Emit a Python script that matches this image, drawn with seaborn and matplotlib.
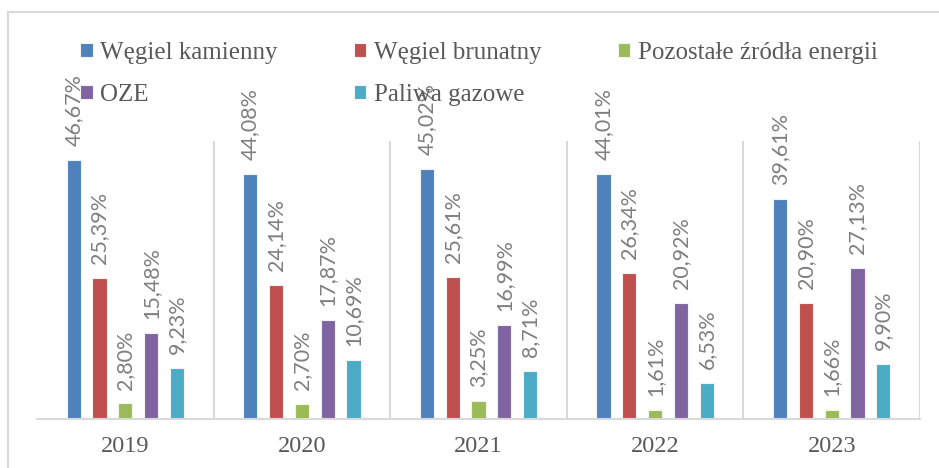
import matplotlib
matplotlib.use("Agg")
import matplotlib.pyplot as plt
from matplotlib.patches import Rectangle
import seaborn as sns
import pandas as pd

years = ["2019", "2020", "2021", "2022", "2023"]
sources = ["Węgiel kamienny", "Węgiel brunatny", "Pozostałe źródła energii", "OZE", "Paliwa gazowe"]
wegiel_kamienny = [46.67, 44.08, 45.02, 44.01, 39.61]
wegiel_brunatny = [25.39, 24.14, 25.61, 26.34, 20.90]
pozostale = [2.80, 2.70, 3.25, 1.61, 1.66]
oze = [15.48, 17.87, 16.99, 20.92, 27.13]
paliwa_gazowe = [9.23, 10.69, 8.71, 6.53, 9.90]
colors = ["#4F81BD", "#C0504D", "#9BBB59", "#8064A2", "#4BACC6"]

series = [wegiel_kamienny, wegiel_brunatny, pozostale, oze, paliwa_gazowe]
rows = []
for name, vals in zip(sources, series):
    for y, v in zip(years, vals):
        rows.append({"rok": y, "zrodlo": name, "udzial": v})
df = pd.DataFrame(rows)

sns.set_theme(style="white")
plt.rcParams['font.family'] = ['Liberation Serif', 'DejaVu Serif']

fig = plt.figure(figsize=(9.39, 4.68), dpi=100)
ax = fig.add_axes([37/939, 1 - 419/468, (920-37)/939, (419-141)/468])

sns.barplot(data=df, x="rok", y="udzial", hue="zrodlo", hue_order=sources,
            order=years, palette=colors, saturation=1, width=0.73, gap=0.45,
            edgecolor="#F2F2F2", linewidth=0.8, ax=ax)

ax.set_ylim(0, 50)
ax.set_xlim(-0.5, 4.5)
ax.set_xlabel("")
ax.set_ylabel("")
ax.set_yticks([])
for s in ["top", "left", "right"]:
    ax.spines[s].set_visible(False)
ax.spines["bottom"].set_color("#D9D9D9")
ax.spines["bottom"].set_linewidth(1.5)
for xb in [0.5, 1.5, 2.5, 3.5, 4.5]:
    ax.axvline(xb, color="#D9D9D9", lw=1.5, zorder=0)
ax.tick_params(axis="x", length=0, pad=12, labelsize=17.5, labelcolor="#595959")

for cont, vals in zip(ax.containers, series):
    labels = [f"{v:.2f}%".replace(".", ",") for v in vals]
    texts = ax.bar_label(cont, labels=labels, rotation=90, padding=10,
                         color="#7F7F7F", fontsize=15.5, family="Lato")
    for t in texts:
        t.set_clip_on(False)

handles, labs = ax.get_legend_handles_labels()
ax.get_legend().remove()
order = [0, 3, 1, 4, 2]
fig.legend([handles[i] for i in order], [labs[i] for i in order],
           ncol=3, loc="upper left", bbox_to_anchor=(70/939, 1 - 32/468),
           frameon=False, fontsize=18, labelcolor="#595959",
           handlelength=0.5, handleheight=0.5, handletextpad=0.3,
           columnspacing=3.05, labelspacing=0.8, borderaxespad=0)

fig.add_artist(Rectangle((8/939, -0.1), 1.2, 1.1 - 12/468, transform=fig.transFigure,
                         fill=False, edgecolor="#D9D9D9", lw=1.5))

fig.savefig("out.png", dpi=100)
